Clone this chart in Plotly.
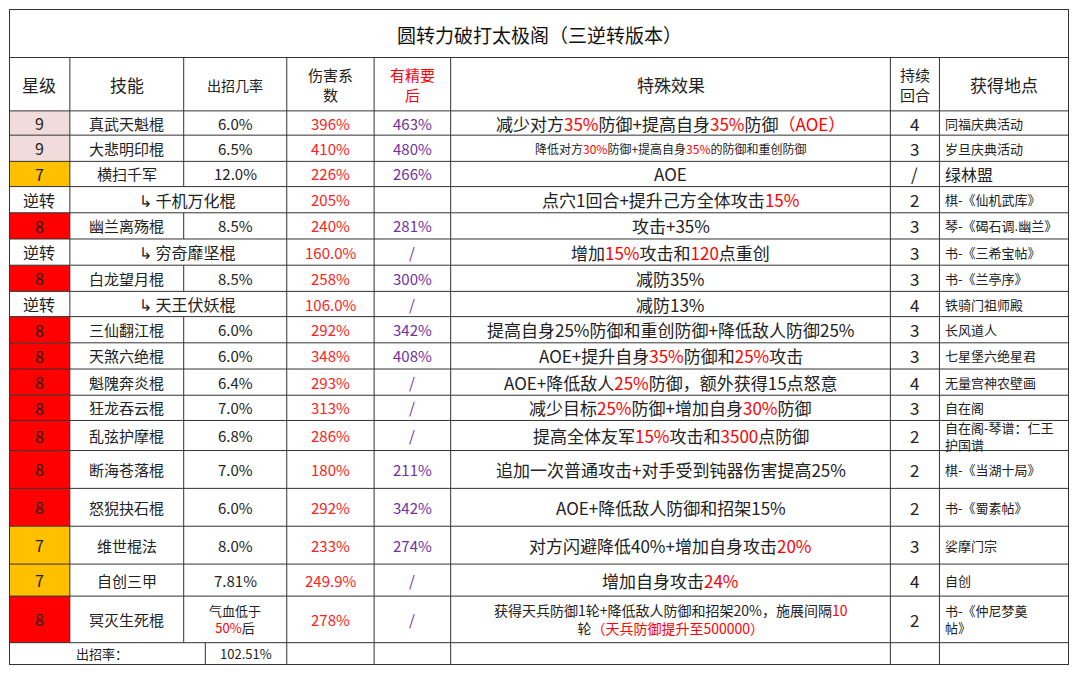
import plotly.graph_objects as go

R = "<span style='color:#ff0000'>{}</span>"

stars = ["9", "9", "7", "逆转", "8", "逆转", "8", "逆转", "8", "8", "8", "8", "8", "8", "8", "7", "7", "8"]
skills = ["真武天魁棍", "大悲明印棍", "横扫千军", "↳ 千机万化棍", "幽兰离殇棍", "↳ 穷奇靡坚棍", "白龙望月棍",
          "↳ 天王伏妖棍", "三仙翻江棍", "天煞六绝棍", "魁隗奔炎棍", "狂龙吞云棍", "乱弦护摩棍", "断海苍落棍",
          "怒猊抉石棍", "维世棍法", "自创三甲", "冥灭生死棍"]
rates = ["6.0%", "6.5%", "12.0%", "", "8.5%", "", "8.5%", "", "6.0%", "6.0%", "6.4%", "7.0%", "6.8%", "7.0%",
         "6.0%", "8.0%", "7.81%", "气血低于<br>" + R.format("50%") + "后"]
damage = ["396%", "410%", "226%", "205%", "240%", "160.0%", "258%", "106.0%", "292%", "348%", "293%", "313%",
          "286%", "180%", "292%", "233%", "249.9%", "278%"]
refined = ["463%", "480%", "266%", "", "281%", "/", "300%", "/", "342%", "408%", "/", "/", "/", "211%", "342%",
           "274%", "/", "/"]
effects = [
    "减少对方" + R.format("35%") + "防御+提高自身" + R.format("35%") + "防御" + R.format("（AOE）"),
    "降低对方" + R.format("30%") + "防御+提高自身" + R.format("35%") + "的防御和重创防御",
    "AOE",
    "点穴1回合+提升己方全体攻击" + R.format("15%"),
    "攻击+35%",
    "增加" + R.format("15%") + "攻击和" + R.format("120") + "点重创",
    "减防35%",
    "减防13%",
    "提高自身25%防御和重创防御+降低敌人防御25%",
    "AOE+提升自身" + R.format("35%") + "防御和" + R.format("25%") + "攻击",
    "AOE+降低敌人" + R.format("25%") + "防御，额外获得15点怒意",
    "减少目标" + R.format("25%") + "防御+增加自身" + R.format("30%") + "防御",
    "提高全体友军" + R.format("15%") + "攻击和" + R.format("3500") + "点防御",
    "追加一次普通攻击+对手受到钝器伤害提高25%",
    "AOE+降低敌人防御和招架15%",
    "对方闪避降低40%+增加自身攻击" + R.format("20%"),
    "增加自身攻击" + R.format("24%"),
    "获得天兵防御1轮+降低敌人防御和招架20%，施展间隔" + R.format("10") + "<br>轮" + R.format("（天兵防御提升至500000）"),
]
rounds = ["4", "3", "/", "2", "3", "3", "3", "4", "3", "3", "4", "3", "2", "2", "2", "3", "4", "2"]
sources = ["同福庆典活动", "岁旦庆典活动", "绿林盟", "棋-《仙机武库》", "琴-《碣石调.幽兰》", "书-《三希宝帖》",
           "书-《兰亭序》", "铁骑门祖师殿", "长风道人", "七星堡六绝星君", "无量宫神农壁画", "自在阁",
           "自在阁-琴谱：仁王<br>护国谱", "棋-《当湖十局》", "书-《蜀素帖》", "娑摩门宗", "自创", "书-《仲尼梦奠<br>帖》"]
headers = ["星级", "技能", "出招几率", "伤害系<br>数", R.format("有精要<br>后"), "特殊效果", "持续<br>回合", "获得地点"]
title = "圆转力破打太极阁（三逆转版本）"
total_label, total_value = "出招率：", "102.51%"

# layout geometry (reference pixels)
W, H = 1080, 676
cols = [0, 62, 178, 283, 372, 450, 898, 948, 1080]
rows = [105, 130, 157, 183, 210, 237, 264, 291, 317, 344, 371, 398, 424, 455, 494, 533, 572, 605, 653]
star_bg = {"9": "#f2dcdb", "7": "#ffc000", "8": "#ff0000", "逆转": "#ffffff"}
FONT = "Noto Sans CJK SC"
LC = "#333333"

shapes, ann = [], []

def line(x0, y0, x1, y1, w=1):
    shapes.append(dict(type="line", x0=x0, y0=y0, x1=x1, y1=y1, line=dict(color=LC, width=w), layer="above"))

def text(x, y, s, size=15, color="#222", anchor="center"):
    ann.append(dict(x=x, y=y, text=s, showarrow=False, xanchor=anchor, yanchor="middle",
                    font=dict(family=FONT, size=size, color=color), align=anchor if anchor != "center" else "center"))

def mid(a, b):
    return (a + b) / 2

text(W / 2, 26, title, size=19, color="#111")
for i, h in enumerate(headers):
    text(mid(cols[i], cols[i + 1]), 78, h, size=15 if "<br>" in h else (14 if i == 2 else 17))

for i in range(len(stars)):
    y0, y1 = rows[i], rows[i + 1]
    ym = mid(y0, y1)
    shapes.append(dict(type="rect", x0=cols[0], x1=cols[1], y0=y0, y1=y1, fillcolor=star_bg[stars[i]],
                       line=dict(width=0), layer="below"))
    text(mid(cols[0], cols[1]), ym, stars[i], size=16)
    merged = rates[i] == "" and stars[i] == "逆转"
    if merged:
        text(cols[1] + 120, ym, skills[i], size=16)
    else:
        text(mid(cols[1], cols[2]), ym, skills[i], size=15)
        text(mid(cols[2], cols[3]), ym, rates[i], size=15 if i < 17 else 13)
    text(mid(cols[3], cols[4]), ym, damage[i], size=15, color="#ff2020")
    text(mid(cols[4], cols[5]), ym, refined[i], size=15, color="#7030a0")
    esize = 12 if i == 1 else (14 if i == 17 else 17)
    text(mid(cols[5], cols[6]), ym, effects[i], size=esize)
    text(mid(cols[6], cols[7]), ym, rounds[i], size=17)
    text(cols[7] + 4, ym, sources[i], size=16 if i == 2 else 13, anchor="left")
    for j, c in enumerate(cols[1:-1], start=1):
        if merged and j == 2:
            continue
        line(c, y0, c, y1)

# total row
yb = rows[-1]
text(cols[1] + 4, mid(yb, H), total_label, size=13, anchor="left")
text(mid(200, cols[3]), mid(yb, H), total_value, size=13)
for c in [200, 283, 372, 450, 898, 948]:
    line(c, yb, c, H)

for c in cols[1:-1]:
    line(c, 50, c, 105)
for y in [50] + rows:
    line(0, y, W, y)
line(0, 0, W, 0, 2)
line(0, 0, 0, H, 2)
line(W, 0, W, H, 2)
line(0, H, W, H, 2)

fig = go.Figure()
fig.update_layout(
    width=1062, height=658, margin=dict(l=1, r=1, t=1, b=1),
    paper_bgcolor="white", plot_bgcolor="white",
    xaxis=dict(range=[0, W], visible=False, fixedrange=True),
    yaxis=dict(range=[H, 0], visible=False, fixedrange=True),
    shapes=shapes, annotations=ann, showlegend=False,
)
fig.write_html("out.html")
